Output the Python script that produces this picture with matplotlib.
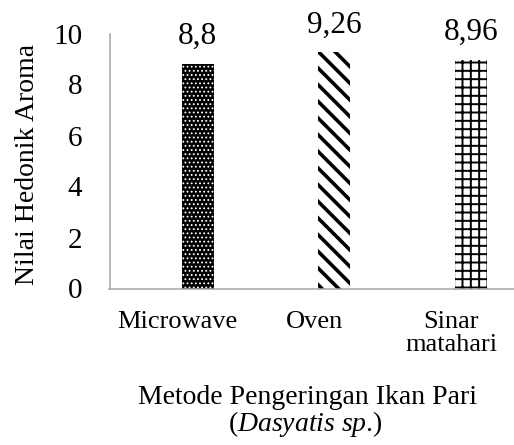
import matplotlib
matplotlib.use("Agg")
import matplotlib.pyplot as plt

categories = ["Microwave", "Oven", "Sinar\nmatahari"]
values = [8.8, 9.26, 8.96]
value_labels = ["8,8", "9,26", "8,96"]
yticks = [0, 2, 4, 6, 8, 10]

plt.rcParams['font.family'] = ['Liberation Serif', 'DejaVu Serif']
plt.rcParams['mathtext.fontset'] = 'custom'
plt.rcParams['mathtext.rm'] = 'Liberation Serif'
plt.rcParams['mathtext.it'] = 'Liberation Serif:italic'

FS = 20
W, H = 514, 445
fig = plt.figure(figsize=(W / 100, H / 100), dpi=100)
ax = fig.add_axes([109.5 / W, (H - 288.5) / H, 410 / W, 255 / H])

styles = [
    dict(facecolor='black', edgecolor='white', hatch='....', hlw=0.8),
    dict(facecolor='white', edgecolor='black', hatch='\\\\', hlw=2.6),
    dict(facecolor='white', edgecolor='black', hatch='++', hlw=1.4),
]

offset = 0.146
bw = 0.234
xs = list(range(len(categories)))
for i, (x, v, st) in enumerate(zip(xs, values, styles)):
    with plt.rc_context({'hatch.linewidth': st['hlw']}):
        bars = ax.bar(x + offset, v, width=bw, facecolor=st['facecolor'],
                      edgecolor=st['edgecolor'], hatch=st['hatch'], linewidth=0)
    for b in bars:
        if hasattr(b, 'set_hatch_linewidth'):
            b.set_hatch_linewidth(st['hlw'])
    ax.annotate(value_labels[i], (x + offset, v), xytext=(0, 14.4),
                textcoords='offset points', ha='center', va='baseline',
                fontsize=22.5)

ax.set_xlim(-0.5, 2.5)
ax.set_ylim(0, 10)
ax.set_yticks(yticks)
ax.set_yticklabels([str(t) for t in yticks], fontsize=21)
ax.set_xticks(xs)
ax.set_xticklabels(categories, fontsize=19)
for lab in ax.get_xticklabels():
    lab.set_linespacing(1.05)
ax.tick_params(axis='both', length=0)
ax.tick_params(axis='y', pad=19.5)
ax.tick_params(axis='x', pad=16)

for s in ['top', 'right']:
    ax.spines[s].set_visible(False)
for s in ['left', 'bottom']:
    ax.spines[s].set_color('#a6a6a6')
    ax.spines[s].set_linewidth(1.1)

fig.text(28 / W, (H - 164) / H, "Nilai Hedonik Aroma", rotation=90,
         ha='center', va='center', fontsize=FS)
fig.text(307.5 / W, (H - 404) / H, "Metode Pengeringan Ikan Pari",
         ha='center', va='baseline', fontsize=FS)
fig.text(305.5 / W, (H - 431) / H, r"($\mathit{Dasyatis\ sp}$.)",
         ha='center', va='baseline', fontsize=FS)

fig.savefig("out.png", dpi=100)
